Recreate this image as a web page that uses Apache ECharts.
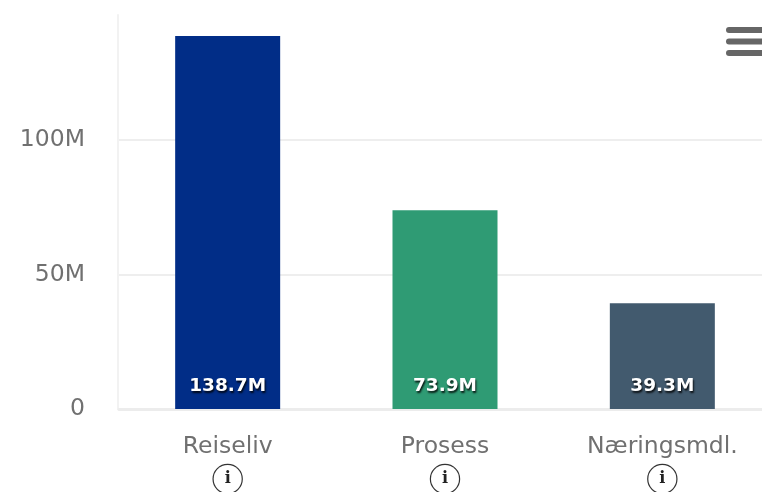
<!DOCTYPE html>
<html><head><meta charset="utf-8">
<style>html,body{margin:0;padding:0;background:#fff}#c{width:762px;height:492px}</style>
<script src="https://cdn.jsdelivr.net/npm/echarts@6/dist/echarts.min.js"></script>
</head><body><div id="c"></div>
<script>
const categories = ['Reiseliv', 'Prosess', 'Næringsmdl.'];
const values = [138.7, 73.9, 39.3];
const barColors = ['#012d87', '#2f9b74', '#425a6e'];
const yTicks = [0, 50, 100];

const chart = echarts.init(document.getElementById('c'), null, {renderer: 'canvas'});
chart.setOption({
  animation: false,
  grid: {left: 119, width: 652, top: 15, height: 394, outerBoundsMode: 'none', containLabel: false},
  xAxis: {
    type: 'category', data: categories,
    axisTick: {show: false},
    axisLine: {lineStyle: {color: '#ececec', width: 3}},
    axisLabel: {
      margin: 21, interval: 0, lineHeight: 34,
      formatter: v => v + '\n{i|i}',
      color: '#707070', fontFamily: 'DejaVu Sans', fontSize: 23.5,
      rich: {i: {
        width: 28, height: 28, lineHeight: 30, align: 'center', borderRadius: 15,
        borderColor: '#333', borderWidth: 1.2, color: '#222', fontFamily: 'DejaVu Serif',
        fontWeight: 'bold', fontSize: 16, backgroundColor: '#fff'
      }}
    }
  },
  yAxis: {
    type: 'value', min: 0, max: 146.5, interval: 50, offset: 1,
    axisLine: {show: true, lineStyle: {color: '#f2f2f2', width: 2}},
    axisTick: {show: false},
    splitLine: {showMaxLine: false, lineStyle: {color: '#eeeeee', width: 2}},
    axisLabel: {
      showMaxLabel: false, margin: 33, color: '#707070', fontFamily: 'DejaVu Sans', fontSize: 23.5,
      formatter: v => yTicks.includes(v) ? (v === 0 ? '0' : v + 'M') : ''
    }
  },
  series: [{
    type: 'bar', barWidth: 105,
    data: values.map((v, i) => ({value: v, itemStyle: {color: barColors[i]}})),
    label: {
      show: true, position: 'insideBottom', distance: 13,
      formatter: p => p.value.toFixed(1) + 'M',
      color: '#fff', fontFamily: 'DejaVu Sans', fontWeight: 'bold', fontSize: 18.5,
      textShadowColor: 'rgba(0,0,0,0.85)', textShadowBlur: 2, textShadowOffsetX: 1, textShadowOffsetY: 2
    }
  }],
  graphic: [27, 38.5, 50].map(y => ({
    type: 'rect', shape: {x: 726, y: y, width: 50, height: 6, r: 3},
    style: {fill: '#666'}
  }))
});
</script></body></html>
